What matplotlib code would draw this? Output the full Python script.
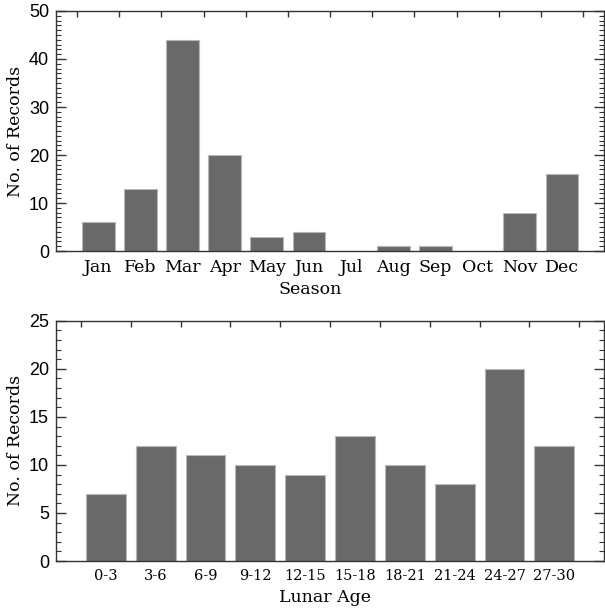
import matplotlib
matplotlib.use('Agg')
import matplotlib.pyplot as plt
from matplotlib.ticker import MultipleLocator, FixedLocator

months = ['Jan', 'Feb', 'Mar', 'Apr', 'May', 'Jun', 'Jul', 'Aug', 'Sep', 'Oct', 'Nov', 'Dec']
month_counts = [6, 13, 44, 20, 3, 4, 0, 1, 1, 0, 8, 16]

lunar_bins = ['0-3', '3-6', '6-9', '9-12', '12-15', '15-18', '18-21', '21-24', '24-27', '27-30']
lunar_counts = [7, 12, 11, 10, 9, 13, 10, 8, 20, 12]

BAR = '#696969'
EDGE = '#b8b8b8'
SERIF = 'DejaVu Serif'
SANS = 'Liberation Sans'


def style_axes(ax, n, ymax, ymajor, yminor):
    ax.set_xlim(0, n + 1)
    ax.set_ylim(0, ymax)
    for s in ax.spines.values():
        s.set_linewidth(1.0)
        s.set_color('#333333')
    ax.yaxis.set_major_locator(MultipleLocator(ymajor))
    ax.yaxis.set_minor_locator(MultipleLocator(yminor))
    ax.tick_params(axis='y', which='major', direction='in', length=7, width=1,
                   right=True, labelsize=13, colors='#333333', pad=5)
    ax.tick_params(axis='y', which='minor', direction='in', length=3.5, width=0.8,
                   right=True, colors='#333333')
    for lab in ax.get_yticklabels():
        lab.set_family(SANS)
        lab.set_color('black')
    # ticks on the top edge between bars, none at the bottom
    ax.xaxis.set_minor_locator(FixedLocator([i + 0.5 for i in range(n + 1)]))
    ax.tick_params(axis='x', which='minor', direction='in', length=4, width=1,
                   top=True, bottom=False, colors='#333333')
    ax.tick_params(axis='x', which='major', length=0, pad=6)
    ax.set_ylabel('No. of Records', family=SERIF, fontsize=12.5)
    ax.yaxis.set_label_coords(-0.058, 0.5)


fig = plt.figure(figsize=(6.05, 6.08), dpi=100)
ax1 = fig.add_axes([0.0926, 0.587, 0.906, 0.395])
ax2 = fig.add_axes([0.0926, 0.0773, 0.906, 0.395])

x1 = list(range(1, len(months) + 1))
ax1.bar(x1, month_counts, width=0.78, color=BAR, edgecolor=EDGE, linewidth=0.8)
style_axes(ax1, len(months), 50, 10, 1)
ax1.set_xticks(x1)
ax1.set_xticklabels(months, family=SERIF, fontsize=12.5)
ax1.set_xlabel('Season', family=SERIF, fontsize=12.5)
ax1.xaxis.set_label_coords(0.464, -0.125)

x2 = list(range(1, len(lunar_bins) + 1))
ax2.bar(x2, lunar_counts, width=0.8, color=BAR, edgecolor=EDGE, linewidth=0.8)
style_axes(ax2, len(lunar_bins), 25, 5, 1)
ax2.set_xticks(x2)
ax2.set_xticklabels(lunar_bins, family=SERIF, fontsize=10.5)
ax2.set_xlabel('Lunar Age', family=SERIF, fontsize=12.5)
ax2.xaxis.set_label_coords(0.49, -0.115)

fig.savefig('out.png', dpi=100)
